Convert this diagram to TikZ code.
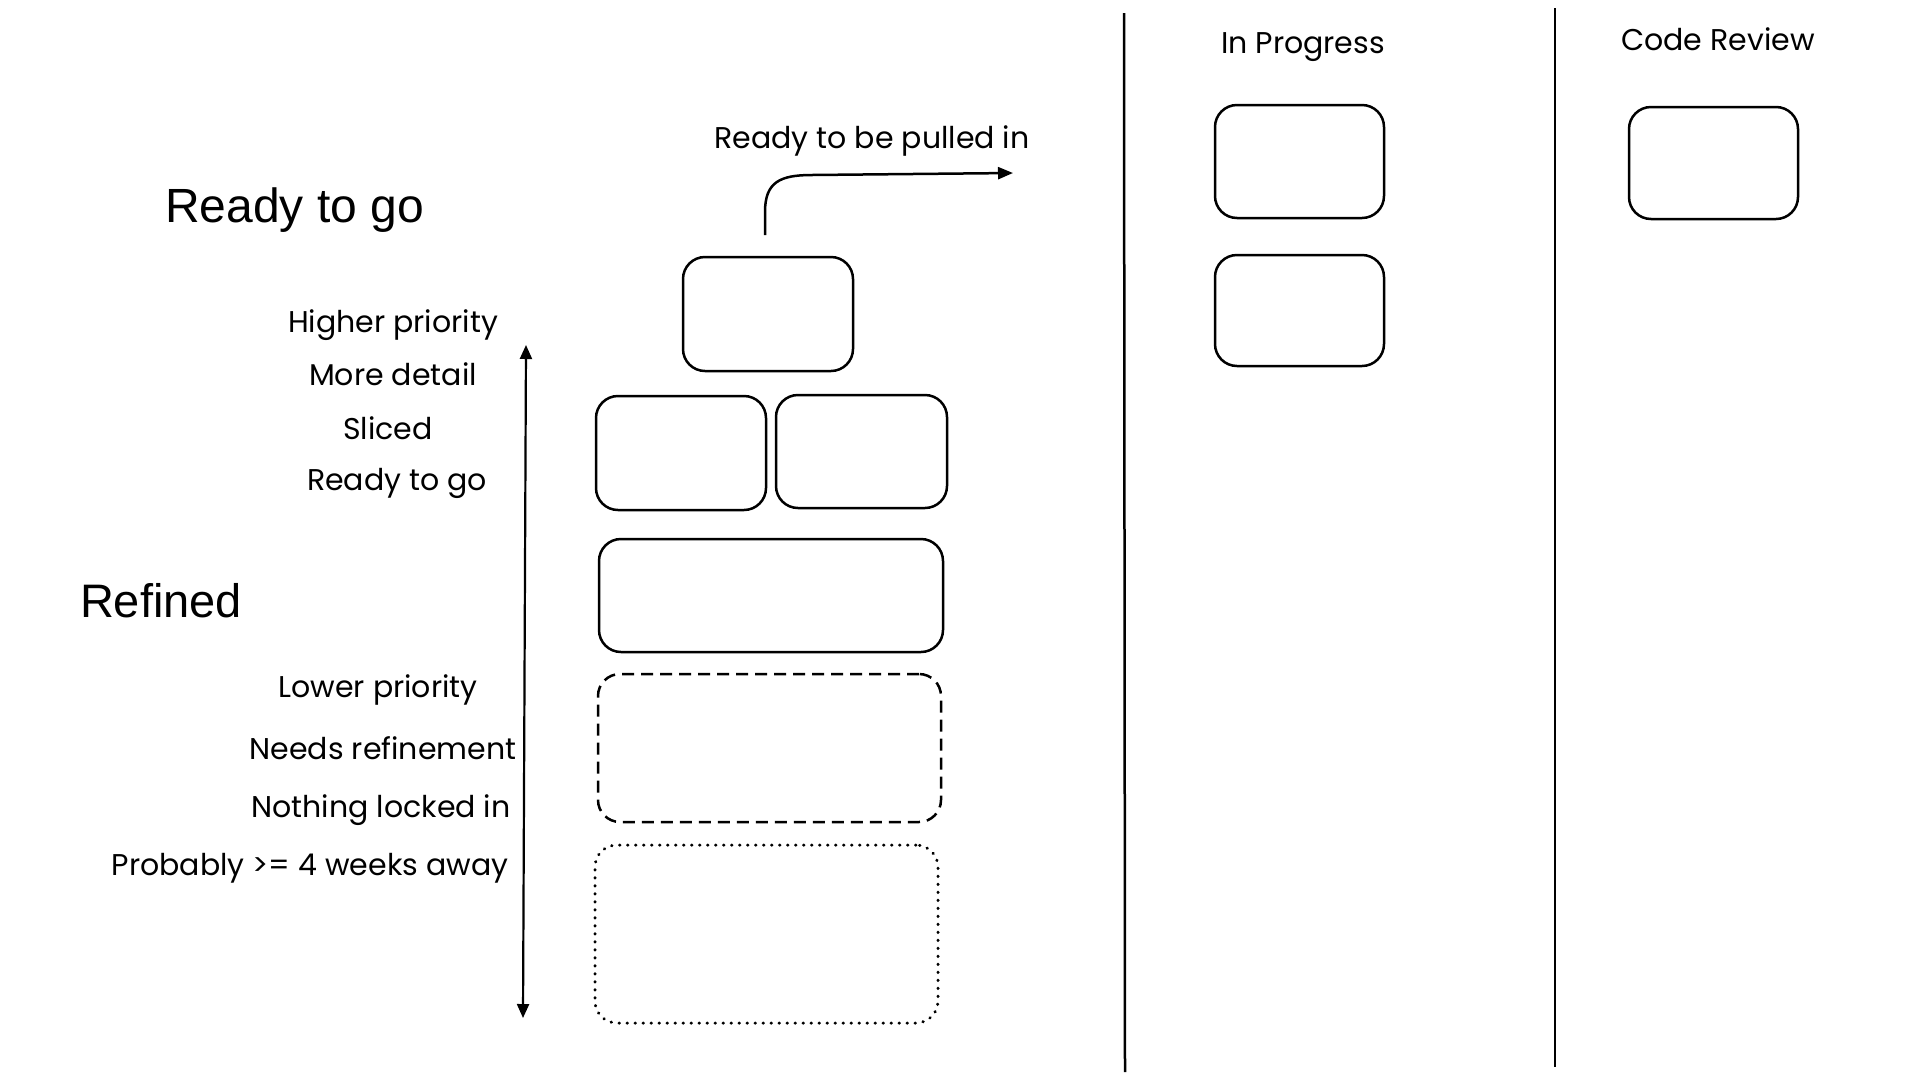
\documentclass[tikz,border=0pt]{standalone}
\usepackage{fontspec}
\setmainfont{Liberation Sans}
\newfontfamily\handfont{Poppins}
\usetikzlibrary{arrows.meta}
\tikzset{
  card/.style={draw=black, line width=2.5pt, rounded corners=22pt, inner sep=0pt, fill=none},
  dashcard/.style={card, dash pattern=on 12pt off 7pt},
  dotcard/.style={card, line width=3pt, dash pattern=on 0.5pt off 7.5pt, line cap=round},
  hand/.style={font=\handfont\fontsize{30}{34}\selectfont, inner sep=0pt, anchor=base},
  big/.style={font=\fontsize{48}{56}\selectfont, inner sep=0pt, anchor=base},
  divider/.style={line width=2.5pt},
  arr/.style={line width=2.5pt, -{Triangle[length=15pt,width=12pt]}},
  dblarr/.style={line width=2.2pt, {Triangle[length=14pt,width=12pt]}-{Triangle[length=14pt,width=12pt]}},
}
\begin{document}
\begin{tikzpicture}[x=1pt,y=-1pt]
\useasboundingbox[fill=white] (0,0) rectangle (1920,1080);

% dividers
\coordinate (d1t) at (1124,13);
\coordinate (d1b) at (1125,1072);
\coordinate (d2t) at (1555,8);
\coordinate (d2b) at (1555,1067);
\draw[divider] (d1t) -- (d1b);
\draw[divider] (d2t) -- (d2b);

% column headers
\node[hand] (hip) at (1303,53) {In Progress};
\node[hand] (hcr) at (1718,50) {Code Review};

% column cards
\node[card, minimum width=169pt, minimum height=113pt] (ip1) at (1299.5,161.5) {};
\node[card, minimum width=169pt, minimum height=111pt] (ip2) at (1299.5,310.5) {};
\node[card, minimum width=169pt, minimum height=112pt] (cr1) at (1713.5,163) {};

% backlog cards
\node[card, minimum width=170pt, minimum height=114pt] (top) at (768,314) {};
\node[card, minimum width=170pt, minimum height=114pt] (left) at (681,453) {};
\node[card, minimum width=171pt, minimum height=113pt] (right) at (861.5,451.5) {};
\node[card, minimum width=344pt, minimum height=113pt] (wide) at (771,595.5) {};
\node[dashcard, minimum width=343pt, minimum height=148pt] (dash) at (769.5,748) {};
\node[dotcard, minimum width=343pt, minimum height=178pt] (dot) at (766.5,934) {};

% pull arrow
\node[hand] (pull) at (872,148) {Ready to be pulled in};
\coordinate (pullstart) at (765,235);
\coordinate (pullend) at (1013,173);
\draw[arr] (pullstart) -- (765,212) .. controls (765,182) and (780,175) .. (812,175) -- (pullend);

% section titles
\node[big] (rtg) at (294.5,222) {Ready to go};
\node[big, font=\fontsize{47}{56}\selectfont] (ref) at (161,617) {Refined};

% priority arrow
\coordinate (pt) at (526,345);
\coordinate (pb) at (523,1018);
\draw[dblarr] (pb) -- (pt);

% side labels
\node[hand] (l1) at (393,332) {Higher priority};
\node[hand] (l2) at (393,385) {More detail};
\node[hand] (l3) at (388,439) {Sliced};
\node[hand] (l4) at (397,490) {Ready to go};
\node[hand] (l5) at (378,697) {Lower priority};
\node[hand] (l6) at (383,759) {Needs refinement};
\node[hand] (l7) at (381,817) {Nothing locked in};
\node[hand] (l8) at (310,875) {Probably >= 4 weeks away};
\end{tikzpicture}
\end{document}
